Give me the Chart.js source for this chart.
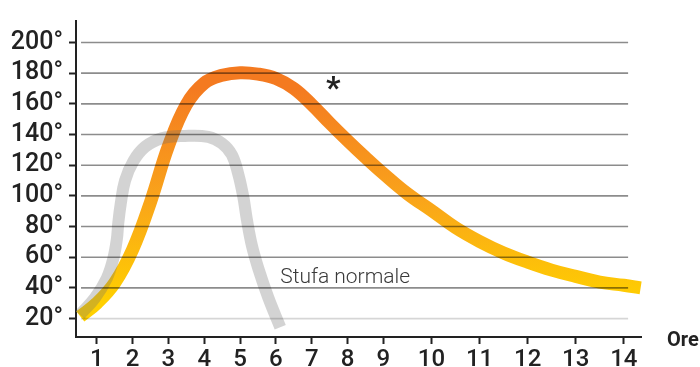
<!DOCTYPE html>
<html>
<head>
<meta charset="utf-8">
<script src="https://cdn.jsdelivr.net/npm/chart.js@4.4.1/dist/chart.umd.min.js"></script>
<style>
  html, body { margin: 0; padding: 0; background: #fff; }
</style>
</head>
<body>
<canvas id="chart" width="700" height="367"></canvas>
<script>
// ===== DATA =====
const hourTicks = [1, 2, 3, 4, 5, 6, 7, 8, 9, 10, 11, 12, 13, 14];
const tempTicks = [20, 40, 60, 80, 100, 120, 140, 160, 180, 200];

// accumulation stove (orange/yellow curve)
const accumHours = [0.54, 1, 1.5, 2, 2.5, 3, 3.5, 4, 4.5, 5, 5.5, 6, 6.5, 7, 7.5, 8, 8.5, 9, 9.5, 10, 10.5, 11, 11.5, 12, 12.5, 13, 13.5, 14, 14.35];
const accumTemps = [21.5, 30, 43.3, 65, 96, 132.5, 159.5, 173.5, 178.6, 180.3, 179.4, 176.5, 170, 159.5, 147.5, 136, 125, 114.5, 101.4, 90.5, 79.3, 70.3, 62.8, 56.8, 51.6, 47.5, 43.8, 41.7, 40];

// "Stufa normale" (grey curve)
const normalHours = [0.53, 0.95, 1.28, 1.46, 1.56, 1.6, 1.67, 1.79, 2.02, 2.35, 2.81, 3.46, 4.11, 4.49, 4.77, 4.95, 5.09, 5.19, 5.33, 5.51, 5.79, 6.12];
const normalTemps = [22.5, 33.5, 46.3, 59, 71.7, 82.3, 95, 110, 122.6, 132, 137.5, 139.1, 138.5, 134.3, 126.8, 114.1, 99.3, 84.4, 67.5, 52.6, 33.5, 14.4];

// hours after 9 are spaced wider on the original axis
function warp(h) {
    return h <= 9 ? h : 9 + (h - 9) * 1.342;
}

const toPoints = (hs, ts) => hs.map((h, i) => ({ x: warp(h), y: ts[i] }));

const FONT = 'Roboto, "Noto Sans", sans-serif';
const INK = '#222';

// grid lines are drawn over the curves, like in the print
const gridOverlay = {
    id: 'gridOverlay',
    afterDatasetsDraw(chart) {
        const { ctx, scales: { x, y } } = chart;
        const x0 = x.getPixelForValue(0.56);
        const x1 = x.getPixelForValue(15.83);
        ctx.save();
        ctx.lineWidth = 1.6;
        tempTicks.forEach(t => {
            const py = y.getPixelForValue(t);
            ctx.strokeStyle = t === 20 ? 'rgba(0,0,0,0.16)' : 'rgba(0,0,0,0.45)';
            ctx.beginPath();
            ctx.moveTo(x0, py);
            ctx.lineTo(x1, py);
            ctx.stroke();
        });
        ctx.restore();
    }
};

const labelsPlugin = {
    id: 'labelsPlugin',
    afterDraw(chart) {
        const { ctx, scales: { x, y } } = chart;
        ctx.save();
        ctx.fillStyle = INK;
        ctx.font = '700 20px ' + FONT;
        ctx.textAlign = 'left';
        ctx.textBaseline = 'middle';
        ctx.fillText('Ore', 667, 341);

        ctx.fillStyle = '#3a3a3a';
        ctx.font = '300 21px ' + FONT;
        ctx.textBaseline = 'alphabetic';
        ctx.fillText('Stufa normale', x.getPixelForValue(6.12), y.getPixelForValue(43.5));

        ctx.fillStyle = INK;
        ctx.font = '700 32px ' + FONT;
        ctx.textAlign = 'center';
        ctx.fillText('*', x.getPixelForValue(7.6), y.getPixelForValue(163.5));
        ctx.restore();
    }
};

function accumGradient(context) {
    const { chart } = context;
    const { chartArea, scales } = chart;
    if (!chartArea) return '#f7931e';
    const g = chart.ctx.createLinearGradient(0, scales.y.getPixelForValue(30), 0, scales.y.getPixelForValue(170));
    g.addColorStop(0, '#ffd000');
    g.addColorStop(0.5, '#f9a31b');
    g.addColorStop(1, '#f47a20');
    return g;
}

new Chart(document.getElementById('chart'), {
    type: 'line',
    data: {
        datasets: [
            {
                label: 'Stufa normale',
                data: toPoints(normalHours, normalTemps),
                borderColor: 'rgba(110,110,110,0.3)',
                borderWidth: 12,
                pointRadius: 0,
                tension: 0.4,
                clip: false,
                order: 0
            },
            {
                label: 'Stufa ad accumulo',
                data: toPoints(accumHours, accumTemps),
                borderColor: accumGradient,
                borderWidth: 13,
                pointRadius: 0,
                tension: 0.4,
                clip: false,
                order: 1
            }
        ]
    },
    options: {
        responsive: false,
        animation: false,
        layout: { padding: { left: 0, right: 59, top: 13, bottom: 0 } },
        plugins: {
            legend: { display: false },
            tooltip: { enabled: false }
        },
        scales: {
            x: {
                type: 'linear',
                min: 0.42,
                max: 16.19,
                afterBuildTicks: s => { s.ticks = hourTicks.map(h => ({ value: warp(h) })); },
                afterFit: s => { s.height = 30; },
                ticks: {
                    autoSkip: false,
                    maxRotation: 0,
                    padding: 2,
                    color: INK,
                    font: { family: FONT, size: 24, weight: '500' },
                    callback: (v, i) => hourTicks[i]
                },
                grid: { drawOnChartArea: false, drawTicks: true, tickLength: 7, tickColor: INK, tickWidth: 2 },
                border: { color: INK, width: 2 }
            },
            y: {
                min: 8,
                max: 214,
                afterBuildTicks: s => { s.ticks = tempTicks.map(t => ({ value: t })); },
                afterFit: s => { s.width = 76; },
                ticks: {
                    padding: 6,
                    color: INK,
                    font: { family: FONT, size: 25, weight: '500' },
                    callback: v => v + '°'
                },
                grid: { drawOnChartArea: false, drawTicks: true, tickLength: 7, tickColor: INK, tickWidth: 2 },
                border: { color: INK, width: 2 }
            }
        }
    },
    plugins: [gridOverlay, labelsPlugin]
});
</script>
</body>
</html>
